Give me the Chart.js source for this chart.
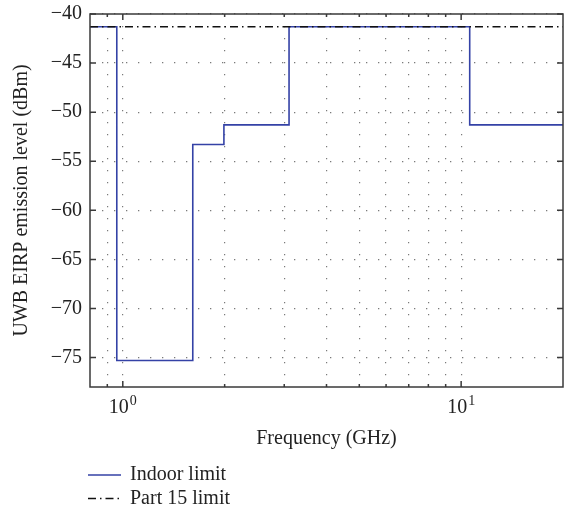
<!DOCTYPE html>
<html>
<head>
<meta charset="utf-8">
<script src="https://cdn.jsdelivr.net/npm/chart.js@4.4.0/dist/chart.umd.min.js"></script>
<style>
  html, body { margin: 0; padding: 0; background: #fff; }
  #wrap { width: 564px; height: 514px; }
</style>
</head>
<body>
<div id="wrap"><canvas id="uwbChart"></canvas></div>
<script>
// indoor mask: each level holds from its edge frequency up to the next edge (GHz)
const indoorFreq = [0.8, 0.96, 1.61, 1.99, 3.1, 10.6, 20];
const indoorLevel = [-41.3, -75.3, -53.3, -51.3, -41.3, -51.3, -51.3];
const part15Freq = [0.8, 20];
const part15Level = [-41.3, -41.3];

const yTicks = [-75, -70, -65, -60, -55, -50, -45, -40];
const xTicks = [0.9, 1, 2, 3, 4, 5, 6, 7, 8, 9, 10];
// decade labels drawn as base + superscript exponent
const xDecades = [1, 10];
const xDecadeExp = ["0", "1"];

const SERIF = "'Liberation Serif', 'DejaVu Serif', serif";

const isDecade = v => Math.abs(Math.log10(v) - Math.round(Math.log10(v))) < 1e-6;

// box round the plot + inward ticks on all four sides + 10^n labels
const frameTicks = {
  id: "frameTicks",
  afterDraw(chart) {
    const { ctx, chartArea: a, scales: { x, y } } = chart;
    ctx.save();
    ctx.strokeStyle = "#3a3a3a";
    ctx.lineWidth = 1.5;
    ctx.beginPath();
    x.ticks.forEach(t => {
      const px = x.getPixelForValue(t.value);
      const len = isDecade(t.value) ? 6 : 3;
      ctx.moveTo(px, a.bottom); ctx.lineTo(px, a.bottom - len);
      ctx.moveTo(px, a.top); ctx.lineTo(px, a.top + len);
    });
    y.ticks.forEach(t => {
      const py = y.getPixelForValue(t.value);
      ctx.moveTo(a.left, py); ctx.lineTo(a.left + 6, py);
      ctx.moveTo(a.right, py); ctx.lineTo(a.right - 6, py);
    });
    ctx.stroke();
    ctx.strokeRect(a.left, a.top, a.right - a.left, a.bottom - a.top);

    ctx.fillStyle = "#222";
    ctx.textBaseline = "alphabetic";
    ctx.textAlign = "left";
    xDecades.forEach((v, i) => {
      const px = x.getPixelForValue(v);
      ctx.font = "20px " + SERIF;
      const wBase = ctx.measureText("10").width;
      ctx.font = "14px " + SERIF;
      const wExp = ctx.measureText(xDecadeExp[i]).width;
      const x0 = px - (wBase + wExp + 1) / 2;
      ctx.font = "20px " + SERIF;
      ctx.fillText("10", x0, a.bottom + 26);
      ctx.font = "14px " + SERIF;
      ctx.fillText(xDecadeExp[i], x0 + wBase + 1, a.bottom + 18);
    });
    ctx.restore();
  }
};

// legend stacked one entry per row under the axis title
const stackedLegend = {
  id: "stackedLegend",
  afterDraw(chart) {
    const ctx = chart.ctx;
    ctx.save();
    ctx.font = "20px " + SERIF;
    ctx.textBaseline = "middle";
    chart.data.datasets.forEach((ds, i) => {
      const yy = 475 + i * 23.5;
      ctx.strokeStyle = ds.borderColor;
      ctx.lineWidth = ds.borderWidth;
      ctx.setLineDash(ds.borderDash || []);
      ctx.beginPath();
      ctx.moveTo(88, yy);
      ctx.lineTo(121, yy);
      ctx.stroke();
      ctx.setLineDash([]);
      ctx.fillStyle = "#222";
      ctx.fillText(ds.label, 130, yy);
    });
    ctx.restore();
  }
};

new Chart(document.getElementById("uwbChart"), {
  type: "line",
  data: {
    datasets: [
      {
        label: "Indoor limit",
        data: indoorFreq.map((f, i) => ({ x: f, y: indoorLevel[i] })),
        stepped: "before",
        borderColor: "#3442a6",
        borderWidth: 1.6,
        pointRadius: 0,
        order: 1
      },
      {
        label: "Part 15 limit",
        data: part15Freq.map((f, i) => ({ x: f, y: part15Level[i] })),
        borderColor: "#111",
        borderWidth: 1.3,
        borderDash: [8, 4, 1.5, 4],
        pointRadius: 0,
        order: 0
      }
    ]
  },
  options: {
    responsive: true,
    maintainAspectRatio: false,
    animation: false,
    layout: { autoPadding: false, padding: { top: 14, right: 1, bottom: 63, left: 0 } },
    plugins: {
      legend: { display: false },
      tooltip: { enabled: false }
    },
    scales: {
      x: {
        type: "logarithmic",
        min: 0.8,
        max: 20,
        afterBuildTicks: s => { s.ticks = xTicks.map(v => ({ value: v })); },
        afterFit: s => { s.height = 64; s.paddingLeft = 0; s.paddingRight = 0; },
        grid: { color: "#7a7a7a", lineWidth: 1.2, drawTicks: false },
        border: { display: false, dash: [1.3, 10.7] },
        ticks: { display: false },
        title: {
          display: true,
          text: "Frequency (GHz)",
          color: "#222",
          font: { family: SERIF, size: 20 },
          padding: { top: 0, bottom: 0 }
        }
      },
      y: {
        min: -78,
        max: -40,
        afterBuildTicks: s => { s.ticks = yTicks.map(v => ({ value: v })); },
        afterFit: s => { s.width = 90; s.paddingTop = 0; s.paddingBottom = 0; },
        grid: { color: "#7a7a7a", lineWidth: 1.2, drawTicks: false },
        border: { display: false, dash: [1.3, 10.7] },
        ticks: {
          padding: 8,
          color: "#222",
          font: { family: SERIF, size: 20 },
          callback: v => String(v).replace("-", "\u2212")
        },
        title: {
          display: true,
          text: "UWB EIRP emission level (dBm)",
          color: "#222",
          font: { family: SERIF, size: 20 },
          padding: { top: 10, bottom: 0 }
        }
      }
    }
  },
  plugins: [frameTicks, stackedLegend]
});
</script>
</body>
</html>
